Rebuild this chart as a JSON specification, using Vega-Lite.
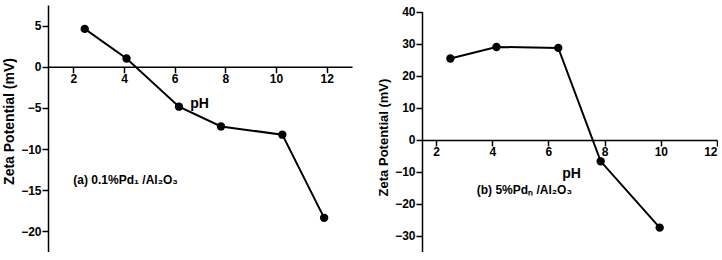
{
  "$schema": "https://vega.github.io/schema/vega-lite/v6.json",
  "background": "white",
  "padding": {"left": 2, "top": 5, "right": 0, "bottom": 0},
  "spacing": 25,
  "config": {
    "font": "Liberation Sans",
    "view": {"stroke": null},
    "axis": {
      "grid": false,
      "domainColor": "black",
      "domainWidth": 1.5,
      "tickColor": "black",
      "tickWidth": 1.5,
      "tickSize": 6,
      "labelFont": "Liberation Sans",
      "labelFontWeight": "bold",
      "labelFontSize": 12,
      "labelColor": "black",
      "labelPadding": 1,
      "titleFont": "Liberation Sans",
      "titleFontWeight": "bold",
      "titleColor": "black"
    }
  },
  "hconcat": [
    {
      "width": 304,
      "height": 247,
      "data": {"values": [
        {"pH": 2.45, "zeta": 4.6},
        {"pH": 4.1, "zeta": 1.0},
        {"pH": 6.17, "zeta": -4.85},
        {"pH": 7.83, "zeta": -7.25},
        {"pH": 10.25, "zeta": -8.25},
        {"pH": 11.9, "zeta": -18.35}
      ]},
      "encoding": {
        "x": {"field": "pH", "type": "quantitative",
          "scale": {"domain": [1, 13], "nice": false, "zero": false},
          "axis": {"values": [2, 4, 6, 8, 10, 12], "offset": -185.25, "title": "pH",
            "titleFontSize": 14, "titleX": 151, "titleY": 37, "titleAlign": "center", "titleBaseline": "middle"}},
        "y": {"field": "zeta", "type": "quantitative",
          "scale": {"domain": [-22.5, 7.5], "nice": false, "zero": false},
          "axis": {"values": [-20, -15, -10, -5, 0, 5], "title": "Zeta Potential (mV)", "titleFontSize": 14, "titlePadding": 4, "titleY": 116}}
      },
      "layer": [
        {"mark": {"type": "line", "color": "black", "strokeWidth": 2}},
        {"mark": {"type": "point", "filled": true, "color": "black", "size": 70, "opacity": 1}},
        {
          "data": {"values": [{"pH": 2.0, "zeta": -13.8, "label": "(a) 0.1%Pd₁ /Al₂O₃"}]},
          "mark": {"type": "text", "align": "left", "baseline": "middle", "font": "Liberation Sans", "fontWeight": "bold", "fontSize": 12, "color": "black"},
          "encoding": {"text": {"field": "label"}}
        }
      ]
    },
    {
      "width": 295,
      "height": 247,
      "data": {"values": [
        {"pH": 2.51, "zeta": 25.4},
        {"pH": 4.15, "zeta": 29.0},
        {"pH": 6.35, "zeta": 28.7},
        {"pH": 7.86, "zeta": -6.7},
        {"pH": 9.96, "zeta": -27.4}
      ]},
      "encoding": {
        "x": {"field": "pH", "type": "quantitative",
          "scale": {"domain": [1.5, 12], "nice": false, "zero": false},
          "axis": {"values": [2, 4, 6, 8, 10, 12], "offset": -112.1, "title": "pH",
            "titleFontSize": 14, "titleX": 149, "titleY": 34, "titleAlign": "center", "titleBaseline": "middle"}},
        "y": {"field": "zeta", "type": "quantitative",
          "scale": {"domain": [-35, 40], "nice": false, "zero": false, "range": [247, 6.7]},
          "axis": {"values": [-30, -20, -10, 0, 10, 20, 30, 40], "title": "Zeta Potential (mV)", "titleFontSize": 13, "titlePadding": 4, "titleY": 132}}
      },
      "layer": [
        {"mark": {"type": "line", "color": "black", "strokeWidth": 2}},
        {"mark": {"type": "point", "filled": true, "color": "black", "size": 70, "opacity": 1}},
        {
          "data": {"values": [{"pH": 3.45, "zeta": -15.6, "label": "(b) 5%Pdₙ /Al₂O₃"}]},
          "mark": {"type": "text", "align": "left", "baseline": "middle", "font": "Liberation Sans", "fontWeight": "bold", "fontSize": 12, "color": "black"},
          "encoding": {"text": {"field": "label"}}
        }
      ]
    }
  ]
}
